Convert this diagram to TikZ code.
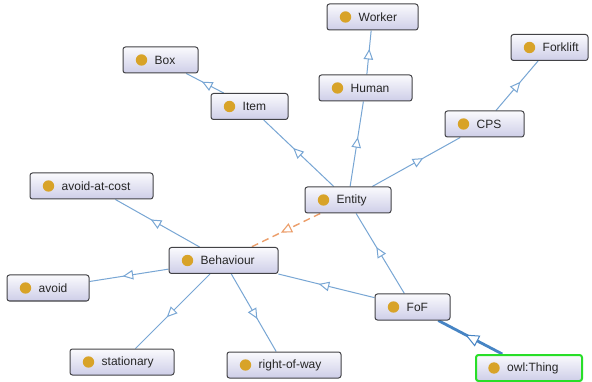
\documentclass[tikz,border=0pt]{standalone}
\usepackage{fontspec}
\setmainfont{Liberation Sans}
\usetikzlibrary{arrows.meta,decorations.markings,backgrounds}

\definecolor{edgeblue}{RGB}{120,166,212}
\definecolor{thingblue}{RGB}{70,132,196}
\definecolor{suborange}{RGB}{236,158,106}
\definecolor{boxtop}{RGB}{250,250,253}
\definecolor{boxbottom}{RGB}{206,206,232}
\definecolor{boxline}{RGB}{66,66,70}
\definecolor{dotgold}{RGB}{216,163,40}
\definecolor{thinggreen}{RGB}{40,222,40}

\tikzset{
  cls/.style={rectangle, rounded corners=2.5pt, draw=boxline, line width=1pt,
    top color=boxtop, bottom color=boxbottom, minimum height=26pt, inner sep=0pt},
  clsname/.style={anchor=west, inner sep=0pt, text=black!85,
    font=\fontsize{12}{14}\selectfont},
  isa/.style={draw=edgeblue, line width=1pt, postaction={decorate},
    decoration={markings, mark=at position 0.58 with
      {\arrow[edgeblue]{Triangle[fill=white,length=10.5pt,width=9.5pt]}}}},
  isathick/.style={draw=thingblue, line width=2.8pt, postaction={decorate},
    decoration={markings, mark=at position 0.58 with
      {\arrow[thingblue,line width=1pt]{Triangle[fill=white,length=14pt,width=12pt]}}}},
  isadashed/.style={draw=suborange, line width=1.4pt, dash pattern=on 7pt off 4.5pt,
    postaction={decorate},
    decoration={markings, mark=at position 0.57 with
      {\arrow[suborange,solid,line width=1.1pt]{Triangle[fill=white,length=11pt,width=10pt]}}}},
}

% class box: [extra style]{name}{centre}{width}{label}
\newcommand\owlclass[5][]{%
  \node[cls, minimum width=#4pt, #1] (#2) at (#3) {};
  \fill[dotgold] ([xshift=19pt]#2.west) circle (5.7pt);
  \node[clsname] (#2-name) at ([xshift=32pt]#2.west) {#5};}

\begin{document}
\begin{tikzpicture}[x=1pt,y=-1pt]
  \useasboundingbox (0,0) rectangle (592,382);
  \begin{scope}[on background layer]
    \fill[white] (0,0) rectangle (592,382);
  \end{scope}

  \owlclass{worker}{372.5,17}{91}{Worker}
  \owlclass{forklift}{549.5,47.5}{77}{Forklift}
  \owlclass{box}{160.5,60}{75}{Box}
  \owlclass{human}{365.5,88}{93}{Human}
  \owlclass{item}{249.5,106.5}{77}{Item}
  \owlclass{cps}{484.5,124}{79}{CPS}
  \owlclass{avoidcost}{91.5,186}{123}{avoid-at-cost}
  \owlclass{entity}{348,200}{86}{Entity}
  \owlclass{behaviour}{223.5,260.5}{109}{Behaviour}
  \owlclass{avoid}{48,288}{82}{avoid}
  \owlclass{fof}{412.5,307}{75}{FoF}
  \owlclass{stationary}{122,362}{104}{stationary}
  \owlclass{rightofway}{284,365}{114}{right-of-way}
  \owlclass[draw=thinggreen, line width=2pt]{thing}{529,368}{106}{owl:Thing}

  \begin{scope}[on background layer]
    \path[isa] (human) -- (worker);
    \path[isa] (item) -- (box);
    \path[isa] (entity) -- (item);
    \path[isa] (entity) -- (human);
    \path[isa] (entity) -- (cps);
    \path[isa] (cps) -- (forklift);
    \path[isa] (behaviour) -- (avoidcost);
    \path[isa] (behaviour) -- (avoid);
    \path[isa] (behaviour) -- (stationary);
    \path[isa] (behaviour) -- (rightofway);
    \path[isa] (fof) -- (entity);
    \path[isa] (fof) -- (behaviour);
    \path[isadashed] (entity) -- (behaviour);
    \path[isathick] (thing) -- (fof);
  \end{scope}
\end{tikzpicture}
\end{document}
